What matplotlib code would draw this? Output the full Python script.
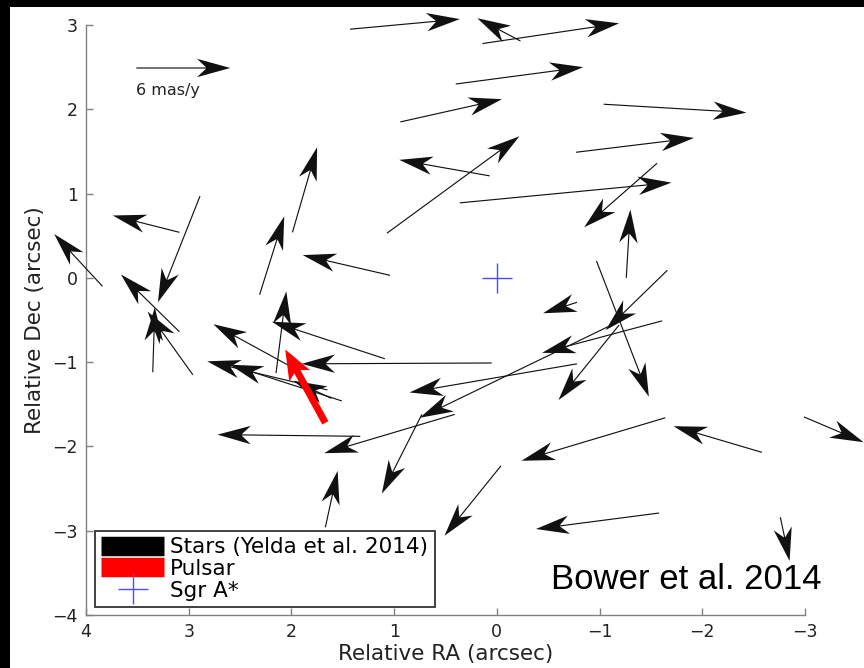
import matplotlib
matplotlib.use("Agg")
import matplotlib.pyplot as plt
from matplotlib.lines import Line2D
from matplotlib.patches import Rectangle

# ---- data (arcsec): tail position and displacement of each proper-motion arrow ----
star_ra = [1.43, -0.23, 0.14, 0.40, 0.94, -1.04, -0.77, 0.07, 1.07, 0.36,
           -1.56, -1.26, 3.84, 3.09, 2.89, 3.09, 3.35, 2.96, 2.31, 1.99,
           1.04, 2.15, 1.09, 0.05, 2.01, 1.65, 1.51, 1.61, -0.78, -1.20,
           -0.78, -1.61, -1.66, -1.19, -0.97, 1.33, 0.41, 1.67, 0.73, -1.64,
           -2.58, -2.99, -0.04, -1.58, -2.76]
star_dec = [2.95, 2.81, 2.78, 2.30, 1.85, 2.06, 1.49, 1.21, 0.53, 0.89,
            1.36, 0.00, -0.10, 0.54, 0.97, -0.64, -1.12, -1.15, -0.20, 0.54,
            0.03, -1.13, -0.96, -1.01, -1.05, -1.33, -1.46, -1.43, -1.02, -0.51,
            -0.29, -0.51, 0.09, -0.56, 0.20, -1.88, -1.62, -2.96, -1.62, -1.66,
            -2.07, -1.65, -2.23, -2.79, -2.84]
star_dra = [-1.07, 0.42, -1.33, -1.24, -0.99, -1.39, -1.15, 0.88, -1.29, -2.06,
            0.71, -0.04, 0.47, 0.65, 0.41, 0.57, -0.02, 0.44, -0.24, -0.24,
            0.85, -0.10, 1.10, 1.85, 0.75, 1.17, 1.09, 0.37, 1.63, 1.95,
            0.33, 1.17, 0.60, 0.59, -0.51, 1.39, 1.27, -0.12, 0.39, 1.40,
            0.86, -0.58, 0.55, 1.20, -0.09]
star_ddec = [0.12, 0.27, 0.24, 0.20, 0.27, -0.10, 0.17, 0.19, 1.15, 0.24,
             -0.76, 0.81, 0.62, 0.20, -1.26, 0.68, 0.77, 0.75, 0.93, 1.01,
             0.24, 0.97, 0.44, -0.01, 0.50, 0.34, 0.43, 0.21, -0.34, -1.15,
             -0.13, -0.38, -0.71, -0.89, -1.61, 0.02, -0.46, 0.67, -0.94, -0.51,
             0.31, -0.30, -0.83, -0.19, -0.52]

pulsar_ra = [1.67]
pulsar_dec = [-1.72]
pulsar_dra = [0.39]
pulsar_ddec = [0.87]

sgra_ra = [0.0]
sgra_dec = [0.0]

scale_ra = [3.51]
scale_dec = [2.49]
scale_dra = [-0.915]
scale_ddec = [0.0]
scale_label = "6 mas/y"

xticks = [4, 3, 2, 1, 0, -1, -2, -3]
yticks = [-4, -3, -2, -1, 0, 1, 2, 3]
legend_labels = ["Stars (Yelda et al. 2014)", "Pulsar", "Sgr A*"]
credit = "Bower et al. 2014"

# ---- figure ----
plt.rcParams["font.family"] = ["DejaVu Sans"]
fig = plt.figure(figsize=(8.64, 6.68), dpi=100, facecolor="black")
fig.patches.append(Rectangle((10 / 864, 0), 1 - 10 / 864, 1 - 7 / 668,
                             transform=fig.transFigure, facecolor="white",
                             edgecolor="none", zorder=-10))
ax = fig.add_axes([86 / 864, 1 - 615 / 668, (805 - 86) / 864, (615 - 25) / 668])
ax.set_facecolor("none")

qkw = dict(angles="xy", scale_units="xy", scale=1, units="dots", pivot="tail")
q = ax.quiver(star_ra, star_dec, star_dra, star_ddec, color="#111111",
              width=1.15, headwidth=16, headlength=29, headaxislength=21,
              minshaft=0.3, zorder=3, **qkw)
q.set_clip_on(False)
qs = ax.quiver(scale_ra, scale_dec, scale_dra, scale_ddec, color="#111111",
               width=1.15, headwidth=16, headlength=29, headaxislength=21,
               minshaft=0.3, zorder=3, **qkw)
qs.set_clip_on(False)
ax.text(scale_ra[0], scale_dec[0] - 0.27, scale_label, fontsize=11.5,
        ha="left", va="center", color="#222222")
qp = ax.quiver(pulsar_ra, pulsar_dec, pulsar_dra, pulsar_ddec, color="#ff0000",
               width=7, headwidth=3.4, headlength=4.3, headaxislength=3.6,
               minshaft=0.3, zorder=4, **qkw)
qp.set_clip_on(False)
ax.plot(sgra_ra, sgra_dec, linestyle="none", marker="+", markersize=22,
        markeredgewidth=1.0, color="#4b4bff", zorder=2)

ax.set_xlim(4, -3)
ax.set_ylim(-4, 3)
ax.set_xticks(xticks)
ax.set_yticks(yticks)
for s in ["top", "right"]:
    ax.spines[s].set_visible(False)
for s in ["left", "bottom"]:
    ax.spines[s].set_color("#808080")
    ax.spines[s].set_linewidth(1.0)
ax.tick_params(direction="in", length=5, width=1, color="#808080",
               labelsize=12.5, labelcolor="#222222")
ax.tick_params(axis="x", pad=6)
ax.tick_params(axis="y", pad=6)
ax.set_xlabel("Relative RA (arcsec)", fontsize=15.5, color="#222222", labelpad=2)
ax.set_ylabel("Relative Dec (arcsec)", fontsize=15.5, color="#222222", labelpad=5)

handles = [Line2D([0], [0], color="black", lw=14, solid_capstyle="butt"),
           Line2D([0], [0], color="#ff0000", lw=14, solid_capstyle="butt"),
           Line2D([0], [0], color="#4b4bff", marker="+", linestyle="none",
                  markersize=22, markeredgewidth=1.0)]
leg = ax.legend(handles, legend_labels, loc="lower left",
                bbox_to_anchor=(0.0125, 0.0136), borderaxespad=0,
                fontsize=15.5, handlelength=2.9, handletextpad=0.3,
                labelspacing=0.08, borderpad=0.3, fancybox=False,
                framealpha=1, edgecolor="#333333")
leg.get_frame().set_linewidth(1.3)
leg.set_zorder(5)

ax.text(-0.527, -3.691, credit, fontsize=25, family="Liberation Sans",
        ha="left", va="baseline", color="black", zorder=6)

fig.savefig("out.png", dpi=100, facecolor=fig.get_facecolor())
